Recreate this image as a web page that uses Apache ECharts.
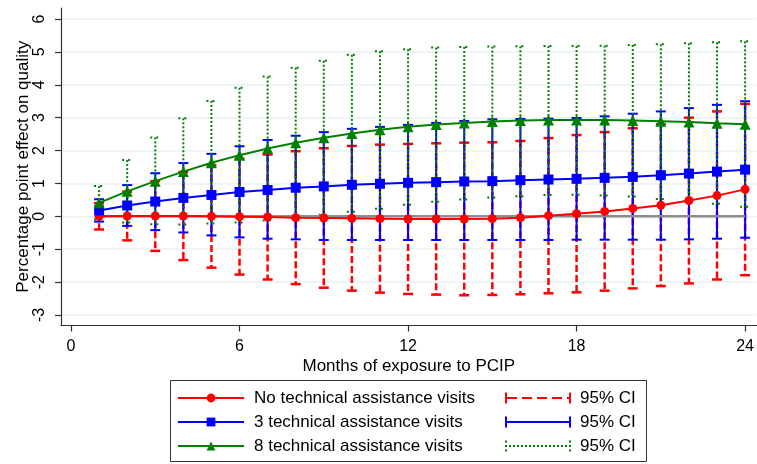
<!DOCTYPE html>
<html>
<head>
<meta charset="utf-8">
<script src="https://cdn.jsdelivr.net/npm/echarts@6/dist/echarts.min.js"></script>
<style>
  html, body { margin: 0; padding: 0; background: #fff; }
  #chart { width: 757px; height: 464px; }
</style>
</head>
<body>
<div id="chart"></div>
<script>
// months of exposure
var months = [1, 2, 3, 4, 5, 6, 7, 8, 9, 10, 11, 12, 13, 14, 15, 16, 17, 18, 19, 20, 21, 22, 23, 24];

// no technical assistance visits
var noVisitEst = [0.00, 0.01, 0.01, 0.01, 0.00, -0.01, -0.02, -0.04, -0.05, -0.06, -0.07, -0.08, -0.08, -0.08, -0.07, -0.04, 0.02, 0.08, 0.15, 0.24, 0.34, 0.48, 0.63, 0.82];
var noVisitLow = [-0.40, -0.73, -1.05, -1.33, -1.56, -1.77, -1.92, -2.06, -2.17, -2.26, -2.32, -2.36, -2.38, -2.40, -2.39, -2.37, -2.34, -2.31, -2.26, -2.19, -2.12, -2.04, -1.92, -1.79];
var noVisitHigh = [0.40, 0.75, 1.07, 1.35, 1.56, 1.75, 1.88, 1.98, 2.07, 2.14, 2.18, 2.20, 2.22, 2.24, 2.25, 2.29, 2.38, 2.47, 2.56, 2.68, 2.80, 3.00, 3.19, 3.42];

// 3 technical assistance visits
var threeEst = [0.18, 0.33, 0.45, 0.56, 0.65, 0.74, 0.80, 0.87, 0.91, 0.96, 0.99, 1.02, 1.04, 1.06, 1.07, 1.10, 1.12, 1.14, 1.17, 1.20, 1.25, 1.30, 1.36, 1.42];
var threeLow = [-0.16, -0.29, -0.42, -0.49, -0.58, -0.64, -0.68, -0.70, -0.72, -0.72, -0.72, -0.72, -0.72, -0.72, -0.72, -0.72, -0.72, -0.71, -0.71, -0.71, -0.71, -0.70, -0.68, -0.65];
var threeHigh = [0.52, 0.95, 1.31, 1.62, 1.90, 2.13, 2.32, 2.45, 2.56, 2.66, 2.72, 2.78, 2.84, 2.90, 2.95, 2.96, 2.97, 2.99, 3.04, 3.12, 3.19, 3.29, 3.39, 3.50];

// 8 technical assistance visits
var eightEst = [0.41, 0.76, 1.07, 1.36, 1.63, 1.86, 2.06, 2.24, 2.39, 2.52, 2.63, 2.72, 2.79, 2.84, 2.88, 2.91, 2.93, 2.93, 2.93, 2.91, 2.89, 2.87, 2.83, 2.80];
var eightLow = [-0.10, -0.19, -0.24, -0.25, -0.22, -0.19, -0.13, -0.04, 0.05, 0.14, 0.23, 0.35, 0.44, 0.51, 0.57, 0.61, 0.65, 0.66, 0.63, 0.60, 0.53, 0.46, 0.38, 0.29];
var eightHigh = [0.92, 1.71, 2.40, 2.98, 3.51, 3.91, 4.25, 4.52, 4.73, 4.91, 5.02, 5.08, 5.13, 5.15, 5.16, 5.17, 5.18, 5.18, 5.19, 5.21, 5.23, 5.26, 5.29, 5.32];

var xTicks = [0, 6, 12, 18, 24];
var yTicks = [-3, -2, -1, 0, 1, 2, 3, 4, 5, 6];
var zeroLine = [[1, 0], [24, 0]];

var FONT = "'Liberation Sans', Arial, sans-serif";

function points(est) {
  return months.map(function (m, i) { return [m, est[i]]; });
}
function bars(low, high) {
  return months.map(function (m, i) { return [m, low[i], high[i]]; });
}

// vertical CI bar with caps
function ciRender(color, width, dash, capDash) {
  return function (params, api) {
    var top = api.coord([api.value(0), api.value(2)]);
    var bot = api.coord([api.value(0), api.value(1)]);
    var hw = 5;
    return {
      type: "group",
      children: [
        { type: "line", shape: { x1: top[0], y1: top[1], x2: bot[0], y2: bot[1] },
          style: { stroke: color, lineWidth: width, lineDash: dash } },
        { type: "line", shape: { x1: top[0] - hw, y1: top[1], x2: top[0] + hw, y2: top[1] },
          style: { stroke: color, lineWidth: width, lineDash: capDash } },
        { type: "line", shape: { x1: bot[0] - hw, y1: bot[1], x2: bot[0] + hw, y2: bot[1] },
          style: { stroke: color, lineWidth: width, lineDash: capDash } }
      ]
    };
  };
}

// legend icons (66 x 11 box)
var iconDashed = "path://M0 0H2V11H0Z M2 4.5H12V6.5H2Z M17 4.5H27V6.5H17Z M32 4.5H42V6.5H32Z M47 4.5H57V6.5H47Z M62 4.5H66V6.5H62Z M64 0H66V11H64Z";
var iconSolid = "path://M0 0H2V11H0Z M2 4.5H64V6.5H2Z M64 0H66V11H64Z";
var dots = "M0 0H2V2H0Z M0 4.5H2V6.5H0Z M0 9H2V11H0Z M64 0H66V2H64Z M64 9H66V11H64Z";
for (var d = 0; d <= 64; d += 4) {
  dots += " M" + d + " 4.5H" + (d + 2) + "V6.5H" + d + "Z";
}
var iconDotted = "path://" + dots;

var chart = echarts.init(document.getElementById("chart"));
chart.setOption({
  animation: false,
  backgroundColor: "#fff",
  grid: { left: 61, right: 0, top: 8, height: 317.5 },
  xAxis: {
    type: "value",
    min: -0.356,
    max: 24.41,
    name: "Months of exposure to PCIP",
    nameLocation: "middle",
    nameGap: 32,
    nameMoveOverlap: false,
    nameTextStyle: { color: "#000", fontSize: 17, fontFamily: FONT },
    axisLine: { show: true, onZero: false, lineStyle: { color: "#333", width: 1.2 } },
    axisTick: { show: true, length: 6, customValues: xTicks, lineStyle: { color: "#333", width: 1.2 } },
    axisLabel: { customValues: xTicks, margin: 13, color: "#000", fontSize: 16, fontFamily: FONT },
    splitLine: { show: false }
  },
  yAxis: {
    type: "value",
    min: -3.319,
    max: 6.334,
    name: "Percentage point effect on quality",
    nameLocation: "middle",
    nameGap: 29,
    nameMoveOverlap: false,
    nameTextStyle: { color: "#000", fontSize: 17, fontFamily: FONT },
    axisLine: { show: true, onZero: false, lineStyle: { color: "#333", width: 1.2 } },
    axisTick: { show: true, length: 6, customValues: yTicks, lineStyle: { color: "#333", width: 1.2 } },
    axisLabel: { customValues: yTicks, rotate: 90, margin: 13, color: "#000", fontSize: 16, fontFamily: FONT },
    splitLine: { show: true, lineStyle: { color: "#eaf2f3", width: 1.5 } }
  },
  legend: [
    {
      left: 177, top: 389, orient: "vertical", padding: 0,
      itemWidth: 66, itemHeight: 11, itemGap: 6,
      selectedMode: false,
      textStyle: { color: "#000", fontSize: 17, lineHeight: 18, fontFamily: FONT, padding: [0, 0, 0, 5] },
      data: ["No technical assistance visits", "3 technical assistance visits", "8 technical assistance visits"]
    },
    {
      left: 505, top: 389, orient: "vertical", padding: 0,
      itemWidth: 66, itemHeight: 11, itemGap: 6,
      selectedMode: false,
      formatter: function (name) { return name.trim(); },
      textStyle: { color: "#000", fontSize: 17, lineHeight: 18, fontFamily: FONT, padding: [0, 0, 0, 4] },
      data: [
        { name: "95% CI", icon: iconDashed },
        { name: "95% CI ", icon: iconSolid },
        { name: "95% CI  ", icon: iconDotted }
      ]
    }
  ],
  graphic: [
    { type: "rect", shape: { x: 170.5, y: 380.5, width: 476, height: 81 },
      style: { fill: "none", stroke: "#333", lineWidth: 1 } }
  ],
  series: [
    {
      name: "zero", type: "line", data: zeroLine, symbol: "none",
      lineStyle: { color: "#8c8c8c", width: 2.5 }, silent: true
    },
    {
      name: "No technical assistance visits", type: "line", data: points(noVisitEst),
      symbol: "circle", symbolSize: 9,
      itemStyle: { color: "#ff0000" }, lineStyle: { color: "#ff0000", width: 2 }
    },
    {
      name: "95% CI", type: "custom", data: bars(noVisitLow, noVisitHigh),
      encode: { x: 0, y: [1, 2] },
      itemStyle: { color: "#ff0000" },
      renderItem: ciRender("#ff0000", 2.5, [7, 3], null)
    },
    {
      name: "3 technical assistance visits", type: "line", data: points(threeEst),
      symbol: "rect", symbolSize: 10,
      itemStyle: { color: "#0000ff" }, lineStyle: { color: "#0000ff", width: 2 }
    },
    {
      name: "95% CI ", type: "custom", data: bars(threeLow, threeHigh),
      encode: { x: 0, y: [1, 2] },
      itemStyle: { color: "#0000ff" },
      renderItem: ciRender("#0000ff", 2, null, null)
    },
    {
      name: "8 technical assistance visits", type: "line", data: points(eightEst),
      symbol: "triangle", symbolSize: 11,
      itemStyle: { color: "#008000" }, lineStyle: { color: "#008000", width: 2 }
    },
    {
      name: "95% CI  ", type: "custom", data: bars(eightLow, eightHigh),
      encode: { x: 0, y: [1, 2] },
      itemStyle: { color: "#008000" },
      renderItem: ciRender("#008000", 2, [2, 2], [2, 4])
    }
  ]
});
</script>
</body>
</html>
